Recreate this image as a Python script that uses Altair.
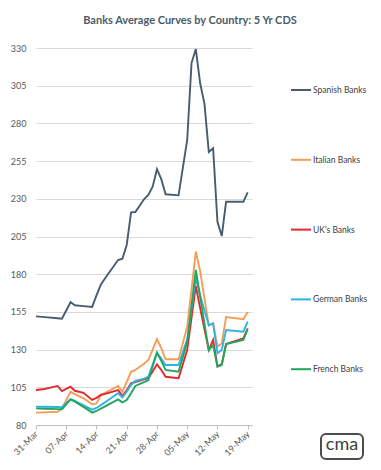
import altair as alt
import pandas as pd

dates = ["2012-03-31", "2012-04-02", "2012-04-05", "2012-04-06", "2012-04-08", "2012-04-09",
         "2012-04-11", "2012-04-13", "2012-04-14", "2012-04-15", "2012-04-16", "2012-04-19",
         "2012-04-20", "2012-04-21", "2012-04-22", "2012-04-23", "2012-04-25", "2012-04-26",
         "2012-04-27", "2012-04-28", "2012-04-29", "2012-04-30", "2012-05-03", "2012-05-05",
         "2012-05-06", "2012-05-07", "2012-05-08", "2012-05-09", "2012-05-10", "2012-05-11",
         "2012-05-12", "2012-05-13", "2012-05-14", "2012-05-18", "2012-05-19"]

spanish = [152, 151.5, 150.8, 150.5, 161.4, 159.4, 158.8, 158.3, 166, 173, 177.3, 189.4,
           190.3, 199.4, 221, 221.2, 229.7, 232.5, 238, 249.6, 243, 233, 232.3, 269,
           320, 329.3, 306.6, 293, 261, 263.5, 214.8, 205.3, 228, 228, 234.3]
italian = [88.2, 88.4, 88.8, 91, 102, 100.5, 97.7, 93.7, 94.3, 99.9, 101.4, 105.9,
           102, 108.6, 115.3, 116.5, 120.6, 123.1, 130, 137, 131, 123.6, 123.6, 145.2,
           170, 195, 182, 164, 146, 147.5, 132, 134, 151.6, 150.2, 155]
uk = [103.2, 103.9, 105.9, 102.5, 105.4, 102.7, 101.3, 96.6, 98, 99.9, 100.6, 103.2,
      99.2, 103, 107.6, 108.5, 110.2, 111, 115.5, 120.2, 116.5, 112, 111, 129.7,
      151, 172.2, 157.5, 143.5, 129.7, 136.4, 119.1, 120.4, 133.7, 137.5, 144]
german = [92.2, 92.1, 91.9, 91.8, 97.2, 96, 93, 90.2, 91.3, 93.2, 95.1, 101,
          98.4, 102, 106.6, 109.2, 110.8, 112, 120, 127.9, 124, 119.8, 119.8, 137,
          157, 177.3, 166, 156, 146.3, 147.4, 127.5, 129.7, 143, 141.9, 148.5]
french = [91, 90.8, 90.5, 90.4, 97, 95.5, 92, 88.2, 89.3, 90.8, 92.3, 97,
          95, 96.5, 101, 105.9, 108.5, 109.8, 119, 127.9, 122.5, 116.5, 115.3, 135,
          159, 182.8, 165, 147, 129.7, 133, 118.7, 119.8, 133.7, 136.4, 143.5]

series_names = ["Spanish Banks", "Italian Banks", "UK's Banks", "German Banks", "French Banks"]
series_colors = ["#485c6e", "#f59d56", "#e0292e", "#2fb3e2", "#22a65e"]
tick_dates = ["2012-03-31", "2012-04-07", "2012-04-14", "2012-04-21",
              "2012-04-28", "2012-05-05", "2012-05-12", "2012-05-19"]
y_ticks = [80, 105, 130, 155, 180, 205, 230, 255, 280, 305, 330]
x_start, x_end = "2012-03-31", "2012-05-20"
title_text = "Banks Average Curves by Country: 5 Yr CDS"
logo_text = ["cma"]

rows = []
for name, vals in zip(series_names, [spanish, italian, uk, german, french]):
    for d, v in zip(dates, vals):
        rows.append({"date": d, "bank": name, "cds": v})
df = pd.DataFrame(rows)


def ms(s):
    return int(pd.Timestamp(s, tz="UTC").value // 10**6)


FONT = "Lato"

lines = alt.Chart(df).mark_line(strokeWidth=1.9).encode(
    x=alt.X("date:T", title=None,
            scale=alt.Scale(type="utc", domain=[ms(x_start), ms(x_end)]),
            axis=alt.Axis(values=[ms(t) for t in tick_dates], format="%d-%b",
                          labelAngle=-45, labelAlign="right", labelBaseline="middle",
                          grid=False, domainColor="#bfbfbf", tickColor="#bfbfbf",
                          tickSize=4, labelPadding=3, labelFontSize=9,
                          labelColor="#595959", labelFont=FONT)),
    y=alt.Y("cds:Q", title=None,
            scale=alt.Scale(domain=[80, 330], nice=False, zero=False),
            axis=alt.Axis(values=y_ticks, domain=False, ticks=False, grid=True,
                          gridColor="#d9d9d9", labelPadding=10, labelFontSize=9,
                          labelColor="#595959", labelFont=FONT)),
    color=alt.Color("bank:N", sort=series_names,
                    scale=alt.Scale(domain=series_names, range=series_colors),
                    legend=alt.Legend(title=None, orient="none", legendX=254, legendY=31,
                                      symbolType="stroke", symbolSize=400,
                                      symbolStrokeWidth=2, labelFontSize=8.5,
                                      labelColor="#404040", labelFont=FONT,
                                      labelOffset=1, rowPadding=53.8)),
)

logo_df = pd.DataFrame({"t": logo_text})
logo_box = alt.Chart(logo_df).mark_rect(
    fill="white", stroke="#4d4d4d", strokeWidth=2, cornerRadius=5
).encode(x=alt.value(285), x2=alt.value(327), y=alt.value(386), y2=alt.value(411))
logo_txt = alt.Chart(logo_df).mark_text(
    fontSize=18, font=FONT, color="#404040", baseline="middle", align="center"
).encode(text="t:N", x=alt.value(306), y=alt.value(397))

chart = alt.layer(lines, logo_box, logo_txt).properties(
    width=216, height=377,
    padding={"left": 28, "top": 40, "right": 120, "bottom": 35},
    autosize=alt.AutoSizeParams(type="none"),
    title=alt.Title(title_text, fontSize=11, font=FONT, fontWeight="bold",
                    color="#4b5b6a", anchor="middle", dx=46, offset=18),
).configure_view(stroke=None)

chart.save("out.html", embed_options={"renderer": "svg", "actions": False})
